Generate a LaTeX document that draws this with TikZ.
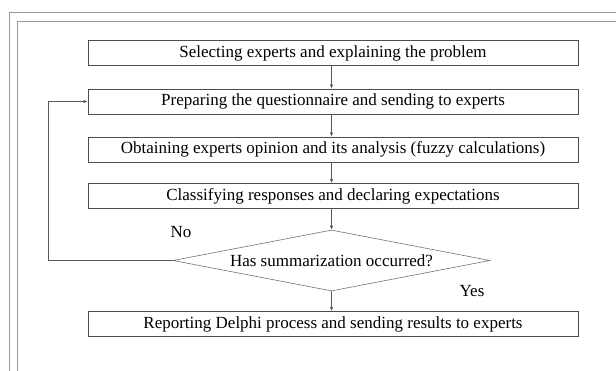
\documentclass[tikz,border=0pt]{standalone}
\usepackage{fontspec}
\setmainfont{Liberation Serif}
\usetikzlibrary{shapes.geometric,arrows.meta}
\begin{document}
\begin{tikzpicture}[x=1pt,y=-1pt,
  stepbox/.style={draw=black!70,line width=0.9pt,minimum width=490pt,minimum height=25pt,inner sep=0pt,font=\fontsize{17}{19}\selectfont,text=black},
  decision/.style={draw=black!55,line width=0.6pt,diamond,aspect=5.2,minimum width=317pt,minimum height=61pt,inner sep=0pt,font=\fontsize{17}{19}\selectfont},
  flow/.style={draw=black!65,line width=0.6pt,-{Latex[length=4pt,width=3.5pt]}},
  frame/.style={draw=black!40,line width=0.7pt,dash pattern=on 0.35pt off 0.35pt},
  lbl/.style={font=\fontsize{17}{19}\selectfont,inner sep=0pt}]
\useasboundingbox (0,0) rectangle (616,370);
\begin{scope}
\clip (0,0) rectangle (616,370);
\draw[frame] (9,380) -- (9,12) -- (630,12);
\draw[frame] (17,380) -- (17,21) -- (630,21);
\end{scope}
\node[stepbox] (s1) at (333,53) {Selecting experts and explaining the problem};
\node[stepbox] (s2) at (333,101.5) {Preparing the questionnaire and sending to experts};
\node[stepbox] (s3) at (333,149.5) {Obtaining experts opinion and its analysis (fuzzy calculations)};
\node[stepbox] (s4) at (333,196) {Classifying responses and declaring expectations};
\node[decision] (d) at (331.5,260.5) {\raisebox{-1pt}{Has summarization occurred?}};
\node[stepbox] (s5) at (333,324) {Reporting Delphi process and sending results to experts};
\coordinate (back) at (48,260.5);
\draw[flow] (s1.south -| d.north) -- (s2.north -| d.north);
\draw[flow] (s2.south -| d.north) -- (s3.north -| d.north);
\draw[flow] (s3.south -| d.north) -- (s4.north -| d.north);
\draw[flow] (s4.south -| d.north) -- (d.north);
\draw[flow] (d.south) -- (s5.north -| d.south);
\draw[flow] (d.west) -- (back) |- (s2.west);
\node[lbl] (no) at (181,232) {No};
\node[lbl] (yes) at (472,291) {Yes};
\end{tikzpicture}
\end{document}
